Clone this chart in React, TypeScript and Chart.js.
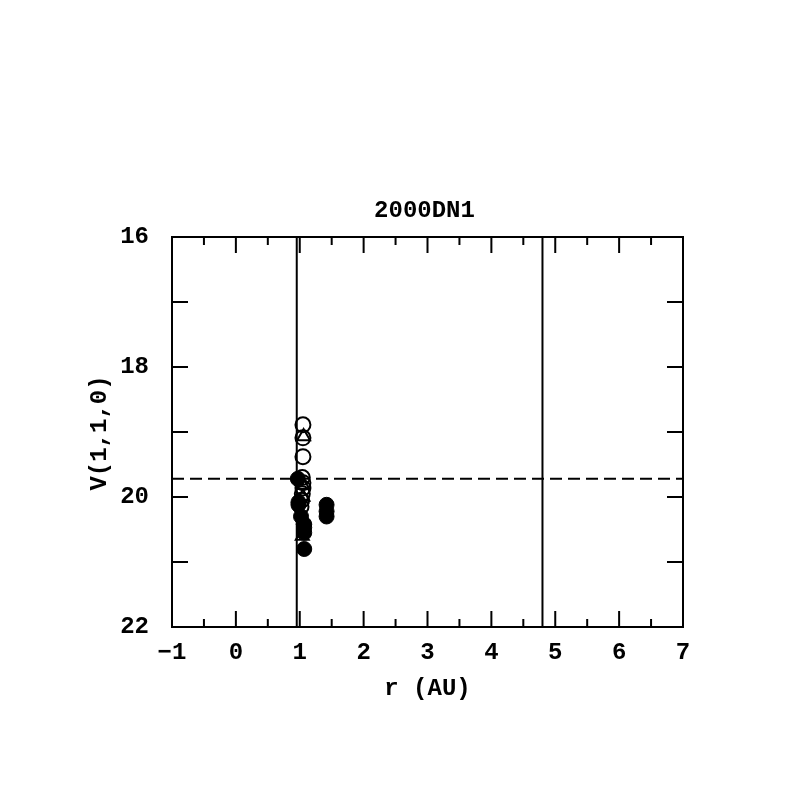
import React, { useEffect, useRef } from "react";
import { Chart, registerables } from "chart.js";

Chart.register(...registerables);

const chartTitle = "2000DN1";
const xTitle = "r (AU)";
const yTitle = "V(1,1,0)";

const xMin = -1;
const xMax = 7;
const yMin = 16;
const yMax = 22;

const openCircleR = [1.05, 1.05, 1.05, 1.04, 1.05, 1.05, 1.04, 1.03, 1.02];
const openCircleV = [18.89, 19.09, 19.38, 19.70, 19.78, 19.86, 19.95, 20.05, 20.15];

const openTriangleR = [1.06, 1.05, 1.05, 1.06, 1.04];
const openTriangleV = [19.07, 19.82, 20.0, 20.35, 20.6];

const filledCircleR = [0.97, 0.98, 0.98, 1.02, 1.07, 1.07, 1.07, 1.07, 1.42, 1.42, 1.42];
const filledCircleV = [19.72, 20.08, 20.12, 20.3, 20.42, 20.47, 20.55, 20.8, 20.12, 20.22, 20.3];

const verticalLinesR = [0.953, 4.8];
const dashedLineV = 19.72;

const FONT = "'Liberation Mono', 'DejaVu Sans Mono', monospace";

function pts(xs: number[], ys: number[]) {
  return xs.map((x, i) => ({ x, y: ys[i] }));
}

const framePlugin = {
  id: "framePlugin",
  afterDatasetsDraw(chart: any) {
    const ctx = chart.ctx;
    const { left, right, top, bottom } = chart.chartArea;
    const xs = chart.scales.x;
    const ys = chart.scales.y;
    ctx.save();
    ctx.strokeStyle = "#000";
    ctx.lineWidth = 2;
    ctx.strokeRect(left, top, right - left, bottom - top);
    for (let v = xMin; v <= xMax + 1e-9; v += 0.5) {
      const px = xs.getPixelForValue(v);
      const major = Math.abs(v - Math.round(v)) < 1e-9;
      const len = major ? 16 : 8;
      ctx.beginPath();
      ctx.moveTo(px, bottom);
      ctx.lineTo(px, bottom - len);
      ctx.moveTo(px, top);
      ctx.lineTo(px, top + len);
      ctx.stroke();
    }
    for (let v = yMin; v <= yMax + 1e-9; v += 1) {
      const py = ys.getPixelForValue(v);
      const len = 16;
      ctx.beginPath();
      ctx.moveTo(left, py);
      ctx.lineTo(left + len, py);
      ctx.moveTo(right, py);
      ctx.lineTo(right - len, py);
      ctx.stroke();
    }
    ctx.fillStyle = "#000";
    ctx.font = `bold 24px ${FONT}`;
    ctx.textAlign = "center";
    ctx.textBaseline = "middle";
    ctx.fillText(chartTitle, (left + right) / 2 - 3, 211);
    ctx.fillText(xTitle, (left + right) / 2, 689);
    ctx.translate(100, 433);
    ctx.rotate(-Math.PI / 2);
    ctx.fillText(yTitle, 0, 0);
    ctx.restore();
  },
};

export default function App() {
  const ref = useRef<HTMLCanvasElement>(null);
  useEffect(() => {
    if (!ref.current) return;
    const lineDatasets: any[] = verticalLinesR.map((r) => ({
      type: "scatter",
      data: [
        { x: r, y: yMin },
        { x: r, y: yMax },
      ],
      showLine: true,
      borderColor: "#000",
      borderWidth: 2,
      pointRadius: 0,
    }));
    lineDatasets.push({
      type: "scatter",
      data: [
        { x: xMin, y: dashedLineV },
        { x: xMax, y: dashedLineV },
      ],
      showLine: true,
      borderColor: "#000",
      borderWidth: 2,
      borderDash: [12, 6],
      pointRadius: 0,
    });
    const chart = new Chart(ref.current, {
      type: "scatter",
      data: {
        datasets: [
          ...lineDatasets,
          {
            data: pts(openCircleR, openCircleV),
            pointStyle: "circle",
            pointRadius: 7.5,
            borderColor: "#000",
            borderWidth: 2,
            backgroundColor: "rgba(0,0,0,0)",
          },
          {
            data: pts(openTriangleR, openTriangleV),
            pointStyle: "triangle",
            pointRadius: 7.5,
            borderColor: "#000",
            borderWidth: 2,
            backgroundColor: "rgba(0,0,0,0)",
          },
          {
            data: pts(filledCircleR, filledCircleV),
            pointStyle: "circle",
            pointRadius: 7.5,
            borderColor: "#000",
            borderWidth: 1,
            backgroundColor: "#000",
          },
        ],
      },
      options: {
        animation: false,
        responsive: false,
        layout: { padding: { left: 0, right: 114, top: 237, bottom: 0 } },
        plugins: { legend: { display: false }, tooltip: { enabled: false }, title: { display: false } },
        scales: {
          x: {
            type: "linear",
            min: xMin,
            max: xMax,
            grid: { display: false },
            border: { display: false },
            ticks: {
              stepSize: 1,
              padding: 4,
              color: "#000",
              font: { family: FONT, size: 24, weight: "bold" },
              callback: (v: any) => (v < 0 ? "\u2212" + Math.abs(v) : String(v)),
            },
            afterFit: (s: any) => {
              s.height = 170;
            },
          },
          y: {
            type: "linear",
            min: yMin,
            max: yMax,
            reverse: true,
            grid: { display: false },
            border: { display: false },
            ticks: {
              stepSize: 2,
              padding: 15,
              color: "#000",
              font: { family: FONT, size: 24, weight: "bold" },
            },
            afterFit: (s: any) => {
              s.width = 172;
            },
          },
        },
      },
      plugins: [framePlugin],
    } as any);
    return () => chart.destroy();
  }, []);
  return (
    <div style={{ position: "absolute", left: 0, top: 0, width: 797, height: 797, background: "#fff" }}>
      <canvas ref={ref} width={797} height={797} style={{ display: "block" }} />
    </div>
  );
}
